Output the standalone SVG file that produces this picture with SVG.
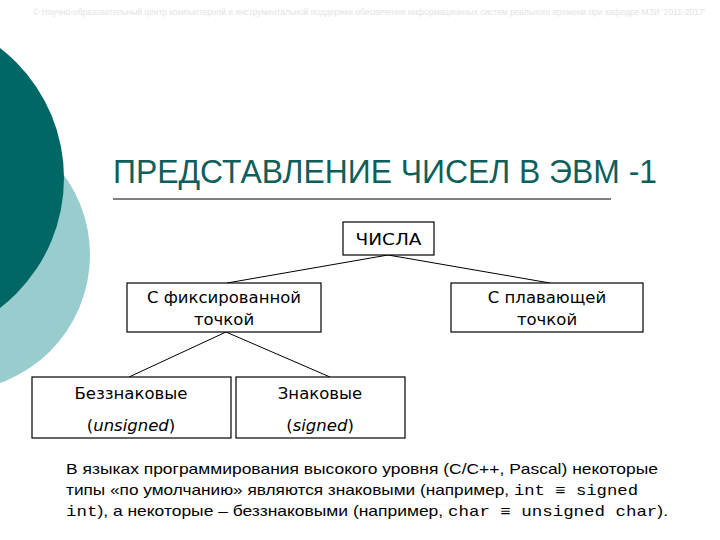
<svg xmlns="http://www.w3.org/2000/svg" width="720" height="540" viewBox="0 0 720 540">
<style>
.box{fill:#fff;stroke:#000;stroke-width:1.2}
.lbl{font-family:"DejaVu Sans",Verdana,sans-serif;font-size:16.5px;fill:#000;text-anchor:middle}
.conn line{stroke:#000;stroke-width:1}
.para{font-family:"Liberation Sans",Arial,sans-serif;font-size:15px;fill:#000}
.mono{font-family:"Liberation Mono","Courier New",monospace}
</style>
<rect width="720" height="540" fill="#fff"/>
<g id="decor">
<circle cx="-46" cy="255" r="136" fill="#99CCCC"/>
<circle cx="-100" cy="178" r="164" fill="#006764"/>
</g>
<text x="33" y="15" font-family="Liberation Sans, Arial, sans-serif" font-size="8.5" fill="#e3e3e3" textLength="672" lengthAdjust="spacingAndGlyphs">© Научно-образовательный центр компьютерной и инструментальной поддержки обеспечения информационных систем реального времени при кафедре МЗИ '2011-2017'</text>
<g id="title">
<text x="113" y="183" font-family="Liberation Sans, Arial, sans-serif" font-size="34" fill="#0E5F5B" textLength="544" lengthAdjust="spacingAndGlyphs">ПРЕДСТАВЛЕНИЕ ЧИСЕЛ В ЭВМ -1</text>
<line x1="113" y1="199" x2="611" y2="199" stroke="#000" stroke-width="1"/>
</g>
<g id="connectors" class="conn">
<line x1="388" y1="255" x2="227" y2="283"/>
<line x1="388" y1="255" x2="550" y2="283"/>
<line x1="226" y1="332" x2="129" y2="377"/>
<line x1="226" y1="332" x2="330" y2="377"/>
</g>
<g id="node-numbers">
<rect class="box" x="343" y="222" width="91" height="33"/>
<text class="lbl" x="388.5" y="245" textLength="66" lengthAdjust="spacingAndGlyphs">ЧИСЛА</text>
</g>
<g id="node-fixed">
<rect class="box" x="127" y="283" width="194" height="49"/>
<text class="lbl" x="224" y="303" font-size="17">С фиксированной</text>
<text class="lbl" x="224" y="325" font-size="17">точкой</text>
</g>
<g id="node-float">
<rect class="box" x="451" y="283" width="192" height="49"/>
<text class="lbl" x="547" y="303" font-size="17">С плавающей</text>
<text class="lbl" x="547" y="325" font-size="17">точкой</text>
</g>
<g id="node-unsigned">
<rect class="box" x="32" y="377" width="199" height="61"/>
<text class="lbl" x="131" y="399" font-size="17">Беззнаковые</text>
<text class="lbl" x="131" y="431" font-size="17">(<tspan font-style="italic">unsigned</tspan>)</text>
</g>
<g id="node-signed">
<rect class="box" x="236" y="377" width="169" height="61"/>
<text class="lbl" x="320" y="399" font-size="17">Знаковые</text>
<text class="lbl" x="320" y="431" font-size="17">(<tspan font-style="italic">signed</tspan>)</text>
</g>
<g id="note" class="para">
<text x="66" y="474" textLength="592" lengthAdjust="spacingAndGlyphs">В языках программирования высокого уровня (С/С++, Pascal) некоторые</text>
<text x="66" y="495" textLength="572" lengthAdjust="spacingAndGlyphs">типы «по умолчанию» являются знаковыми (например, <tspan class="mono">int ≡ signed</tspan></text>
<text x="66" y="516" textLength="602" lengthAdjust="spacingAndGlyphs"><tspan class="mono">int</tspan>), а некоторые – беззнаковыми (например, <tspan class="mono">char ≡ unsigned char</tspan>).</text>
</g>
</svg>
